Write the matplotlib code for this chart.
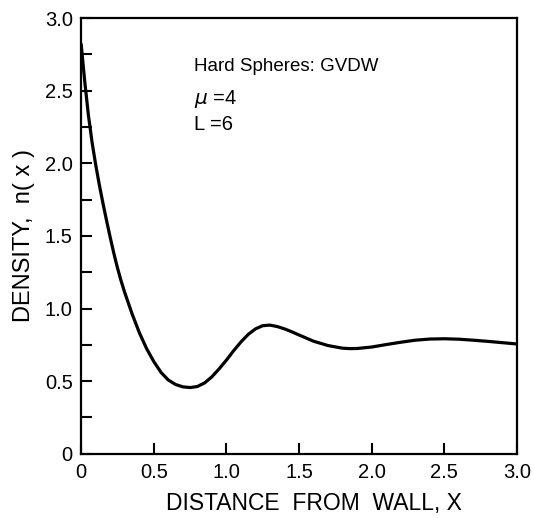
import matplotlib
matplotlib.use("Agg")
import matplotlib.pyplot as plt
from matplotlib.ticker import MultipleLocator

plt.rcParams['font.family'] = ['Liberation Sans', 'DejaVu Sans']

# density profile
distance = [0.0, 0.025, 0.05, 0.075, 0.1, 0.125, 0.15, 0.175, 0.2, 0.225, 0.25,
            0.275, 0.3, 0.35, 0.4, 0.45, 0.5, 0.55, 0.6, 0.65, 0.7, 0.75, 0.8,
            0.85, 0.9, 0.95, 1.0, 1.05, 1.1, 1.15, 1.2, 1.25, 1.3, 1.35, 1.4,
            1.45, 1.5, 1.6, 1.7, 1.8, 1.85, 1.9, 2.0, 2.1, 2.2, 2.3, 2.4, 2.5,
            2.6, 2.7, 2.8, 2.9, 3.0]
density = [2.82, 2.56, 2.33, 2.145, 1.99, 1.852, 1.725, 1.605, 1.49, 1.38, 1.28,
           1.19, 1.11, 0.965, 0.835, 0.725, 0.635, 0.56, 0.508, 0.477, 0.461, 0.456, 0.463,
           0.488, 0.53, 0.585, 0.645, 0.71, 0.77, 0.822, 0.86, 0.882, 0.886, 0.876, 0.86,
           0.84, 0.818, 0.775, 0.745, 0.727, 0.724, 0.725, 0.735, 0.752, 0.768, 0.782, 0.79, 0.792,
           0.789, 0.782, 0.774, 0.765, 0.756]

xticks = [0, 0.5, 1.0, 1.5, 2.0, 2.5, 3.0]
xticklabels = ['0', '0.5', '1.0', '1.5', '2.0', '2.5', '3.0']
yticks = [0, 0.5, 1.0, 1.5, 2.0, 2.5, 3.0]
yticklabels = ['0', '0.5', '1.0', '1.5', '2.0', '2.5', '3.0']

fig = plt.figure(figsize=(5.34, 5.18), dpi=100)
ax = fig.add_axes([0.152, 0.124, 0.816, 0.841])

ax.plot(distance, density, color='black', linewidth=2.3,
        solid_joinstyle='round', solid_capstyle='round')

ax.set_xlim(0, 3.0)
ax.set_ylim(0, 3.0)
ax.set_xticks(xticks)
ax.set_xticklabels(xticklabels)
ax.set_yticks(yticks)
ax.set_yticklabels(yticklabels)
ax.yaxis.set_minor_locator(MultipleLocator(0.25))
ax.tick_params(axis='both', which='both', direction='in', length=8, width=1.5,
               labelsize=14.5, top=False, right=False)
ax.tick_params(axis='x', pad=7)
ax.tick_params(axis='y', pad=6)
for sp in ax.spines.values():
    sp.set_linewidth(1.6)

ax.set_xlabel('DISTANCE  FROM  WALL, X', fontsize=16.5, labelpad=7, x=0.535)
ax.set_ylabel('DENSITY,  n( x )', fontsize=17, labelpad=7)

ax.text(0.26, 0.89, 'Hard Spheres: GVDW', transform=ax.transAxes, fontsize=13.5,
        va='center', ha='left')
ax.text(0.26, 0.815, r'$\mu$ =4', transform=ax.transAxes, fontsize=14.5,
        va='center', ha='left')
ax.text(0.26, 0.755, 'L =6', transform=ax.transAxes, fontsize=14.5,
        va='center', ha='left')

plt.savefig('out.png', dpi=100, facecolor='w')
